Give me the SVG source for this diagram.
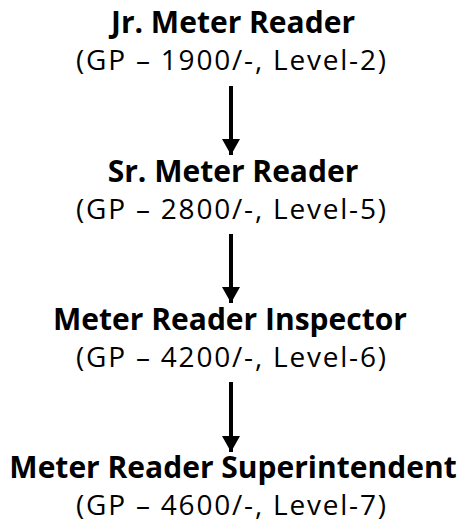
<svg xmlns="http://www.w3.org/2000/svg" width="460" height="526" viewBox="0 0 460 526">
<style>
.t{font-family:"Open Sans","Noto Sans",sans-serif;font-weight:bold;font-size:30px;fill:#000;text-anchor:middle}
.s{font-family:"Open Sans","Noto Sans",sans-serif;font-size:28px;fill:#000;text-anchor:middle}
.a{stroke:#000;stroke-width:4;fill:none}
</style>
<defs>
<marker id="ah" markerUnits="userSpaceOnUse" markerWidth="16" markerHeight="18" refX="16" refY="9" orient="auto" viewBox="0 0 16 18">
<path d="M0,0 L16,9 L0,18 Z" fill="#000"/>
</marker>
</defs>
<rect width="460" height="526" fill="#fff"/>
<g id="n1"><text class="t" x="233" y="33">Jr. Meter Reader</text><text class="s" x="231" y="70" textLength="310" lengthAdjust="spacing">(GP – 1900/-, Level-2)</text></g>
<g id="n2"><text class="t" x="233" y="182">Sr. Meter Reader</text><text class="s" x="231" y="219" textLength="310" lengthAdjust="spacing">(GP – 2800/-, Level-5)</text></g>
<g id="n3"><text class="t" x="230" y="330">Meter Reader Inspector</text><text class="s" x="231" y="367" textLength="310" lengthAdjust="spacing">(GP – 4200/-, Level-6)</text></g>
<g id="n4"><text class="t" x="233" y="478">Meter Reader Superintendent</text><text class="s" x="231" y="515" textLength="310" lengthAdjust="spacing">(GP – 4600/-, Level-7)</text></g>
<g id="connectors">
<line class="a" x1="231" y1="86" x2="231" y2="155" marker-end="url(#ah)"/>
<line class="a" x1="231" y1="234" x2="231" y2="303" marker-end="url(#ah)"/>
<line class="a" x1="231" y1="382" x2="231" y2="452" marker-end="url(#ah)"/>
</g>
</svg>
